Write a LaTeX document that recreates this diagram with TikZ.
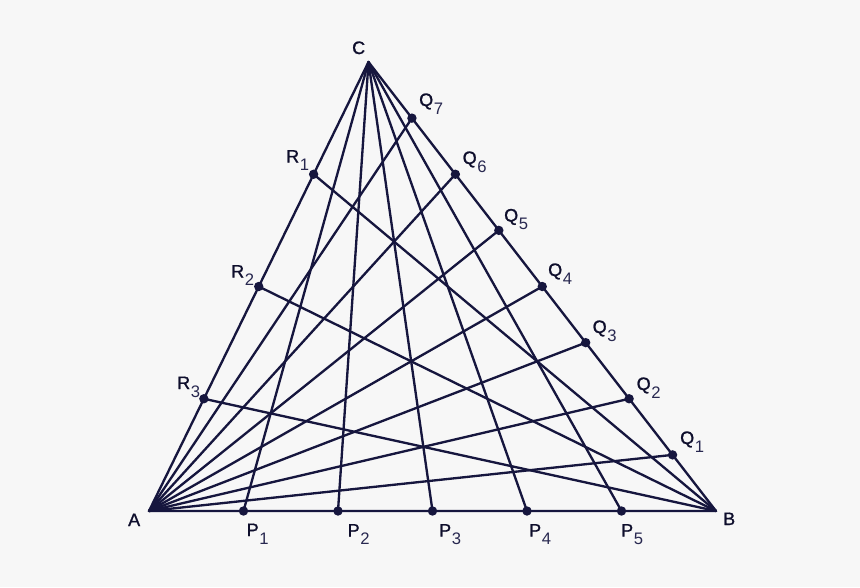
\documentclass[tikz,border=0pt]{standalone}
\usepackage{fontspec}
\setmainfont{Liberation Sans}
\newfontfamily\lblfont[FakeBold=1.2]{Liberation Sans}
\usetikzlibrary{calc}
\definecolor{bgcol}{RGB}{247,247,247}
\definecolor{linecol}{RGB}{22,22,62}
\definecolor{txtcol}{RGB}{14,14,44}
\definecolor{subcol}{RGB}{40,40,80}
\newcommand{\lsub}[1]{\hspace{0.6pt}\raisebox{-6.2pt}{\normalfont\fontsize{12.5}{14}\selectfont\color{subcol}#1}}
\tikzset{every picture/.style={line width=1.75pt},
  lbl/.style={anchor=base west,inner sep=0pt,text=txtcol,font=\lblfont\fontsize{13.5}{15}\selectfont},
  seg/.style={draw=linecol,line cap=round,line join=round},
  dot/.style={fill=linecol}}

\begin{document}
\begin{tikzpicture}[x=0.75pt,y=0.75pt,yscale=-1,xscale=1]
%background
\fill[bgcol] (0,0) rectangle (860,587);
\useasboundingbox (0,0) rectangle (860,587);

%Vertices
\coordinate (A) at (149,511);
\coordinate (B) at (716,511);
\coordinate (C) at (368.5,62);
%Points on AB
\coordinate (P1) at ($(A)!1/6!(B)$);
\coordinate (P2) at ($(A)!2/6!(B)$);
\coordinate (P3) at ($(A)!3/6!(B)$);
\coordinate (P4) at ($(A)!4/6!(B)$);
\coordinate (P5) at ($(A)!5/6!(B)$);
%Points on BC
\coordinate (Q1) at ($(B)!1/8!(C)$);
\coordinate (Q2) at ($(B)!2/8!(C)$);
\coordinate (Q3) at ($(B)!3/8!(C)$);
\coordinate (Q4) at ($(B)!4/8!(C)$);
\coordinate (Q5) at ($(B)!5/8!(C)$);
\coordinate (Q6) at ($(B)!6/8!(C)$);
\coordinate (Q7) at ($(B)!7/8!(C)$);
%Points on CA
\coordinate (R1) at ($(C)!1/4!(A)$);
\coordinate (R2) at ($(C)!2/4!(A)$);
\coordinate (R3) at ($(C)!3/4!(A)$);

%Straight Lines (cevians from C)
\draw[seg] (C) -- (P1) ;
\draw[seg] (C) -- (P2) ;
\draw[seg] (C) -- (P3) ;
\draw[seg] (C) -- (P4) ;
\draw[seg] (C) -- (P5) ;
%Straight Lines (cevians from A)
\draw[seg] (A) -- (Q1) ;
\draw[seg] (A) -- (Q2) ;
\draw[seg] (A) -- (Q3) ;
\draw[seg] (A) -- (Q4) ;
\draw[seg] (A) -- (Q5) ;
\draw[seg] (A) -- (Q6) ;
\draw[seg] (A) -- (Q7) ;
%Straight Lines (cevians from B)
\draw[seg] (B) -- (R1) ;
\draw[seg] (B) -- (R2) ;
\draw[seg] (B) -- (R3) ;
%Shape: Triangle
\draw[seg] (A) -- (B) -- (C) -- cycle ;

%Points
\fill[dot] (P1) circle (4.7) ;
\fill[dot] (P2) circle (4.7) ;
\fill[dot] (P3) circle (4.7) ;
\fill[dot] (P4) circle (4.7) ;
\fill[dot] (P5) circle (4.7) ;
\fill[dot] (Q1) circle (4.7) ;
\fill[dot] (Q2) circle (4.7) ;
\fill[dot] (Q3) circle (4.7) ;
\fill[dot] (Q4) circle (4.7) ;
\fill[dot] (Q5) circle (4.7) ;
\fill[dot] (Q6) circle (4.7) ;
\fill[dot] (Q7) circle (4.7) ;
\fill[dot] (R1) circle (4.7) ;
\fill[dot] (R2) circle (4.7) ;
\fill[dot] (R3) circle (4.7) ;

% Text Node
\node[lbl] (lA) at (127,526) {A};
% Text Node
\node[lbl] (lB) at (722,525) {B};
% Text Node
\node[lbl] (lC) at (351,54) {C};
% Text Node
\node[lbl] (lP1) at (245.5,536) {P\lsub{1}};
% Text Node
\node[lbl] (lP2) at (346.5,536.5) {P\lsub{2}};
% Text Node
\node[lbl] (lP3) at (438,536.5) {P\lsub{3}};
% Text Node
\node[lbl] (lP4) at (528,536.5) {P\lsub{4}};
% Text Node
\node[lbl] (lP5) at (620,536.5) {P\lsub{5}};
% Text Node
\node[lbl] (lQ1) at (679,444) {Q\lsub{1}};
% Text Node
\node[lbl] (lQ2) at (635.5,390) {Q\lsub{2}};
% Text Node
\node[lbl] (lQ3) at (591.5,333) {Q\lsub{3}};
% Text Node
\node[lbl] (lQ4) at (547,276) {Q\lsub{4}};
% Text Node
\node[lbl] (lQ5) at (503,221.5) {Q\lsub{5}};
% Text Node
\node[lbl] (lQ6) at (461.5,164) {Q\lsub{6}};
% Text Node
\node[lbl] (lQ7) at (418,106) {Q\lsub{7}};
% Text Node
\node[lbl] (lR1) at (285,162.5) {R\lsub{1}};
% Text Node
\node[lbl] (lR2) at (230,277.5) {R\lsub{2}};
% Text Node
\node[lbl] (lR3) at (176,389) {R\lsub{3}};

\end{tikzpicture}
\end{document}
